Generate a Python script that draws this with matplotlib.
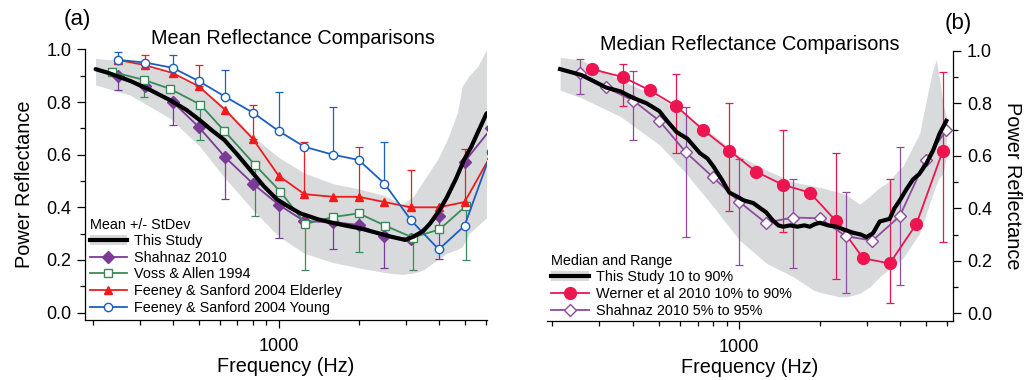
import matplotlib
matplotlib.use("Agg")
import matplotlib.pyplot as plt
from matplotlib.lines import Line2D
from matplotlib.patches import Patch
from matplotlib.ticker import LogLocator, FixedLocator, MultipleLocator, FuncFormatter, NullFormatter
import numpy as np

plt.rcParams['font.family'] = ['Liberation Sans', 'DejaVu Sans']

# ---- panel (a): mean reflectance ----
std_f = [250, 315, 400, 500, 630, 800, 1000, 1250, 1600, 2000, 2500, 3150, 4000, 5000, 6300]

young = [0.96, 0.95, 0.93, 0.88, 0.82, 0.76, 0.69, 0.63, 0.60, 0.58, 0.49, 0.35, 0.24, 0.33, 0.61]
young_err_f = [250, 400, 630, 1000, 1600, 2500]
young_err_top = [0.99, 0.98, 0.92, 0.84, 0.78, 0.65]

elder = [0.96, 0.94, 0.91, 0.86, 0.77, 0.66, 0.52, 0.45, 0.44, 0.44, 0.42, 0.40, 0.40, 0.42, 0.60]
elder_err_f = [315, 500, 800, 1250, 2000, 3150, 5000]
elder_err_top = [0.98, 0.94, 0.79, 0.65, 0.63, 0.54, 0.62]

shahnaz_mean = [0.90, 0.86, 0.80, 0.706, 0.59, 0.49, 0.41, 0.347, 0.344, 0.333, 0.29, 0.28, 0.367, 0.573, 0.70]
shahnaz_err_f = [250, 400, 630, 1000, 1600, 2500, 4000]
shahnaz_err_bot = [0.846, 0.713, 0.43, 0.282, 0.242, 0.171, 0.203]

voss_f = [236, 312, 391, 508, 625, 817, 1015, 1260, 1600, 2000, 2520, 3190, 4025, 5070]
voss = [0.915, 0.884, 0.85, 0.79, 0.69, 0.56, 0.46, 0.337, 0.363, 0.377, 0.33, 0.285, 0.316, 0.406]
voss_err_f = [312, 508, 817, 1260, 2000, 3190, 5070]
voss_err_bot = [0.82, 0.655, 0.368, 0.16, 0.23, 0.16, 0.20]

mean_f = [205, 230, 277, 330, 391, 450, 507, 565, 625, 700, 782, 880, 986, 1100, 1207, 1400,
          1610, 1800, 2029, 2300, 2630, 2993, 3220, 3500, 3720, 4000, 4300, 4650, 4975, 5300, 5580, 6050]
mean_v = [0.925, 0.91, 0.88, 0.845, 0.807, 0.77, 0.73, 0.69, 0.656, 0.60, 0.542, 0.48, 0.43, 0.40, 0.377, 0.355,
          0.34, 0.33, 0.32, 0.305, 0.289, 0.276, 0.289, 0.31, 0.34, 0.385, 0.44, 0.51, 0.58, 0.63, 0.68, 0.757]

sd_f = [205, 277, 391, 507, 622, 800, 1000, 1250, 1600, 2000, 2500, 2900, 3200, 3500, 3950,
        4300, 4700, 4900, 5200, 5600, 6050]
sd_hi = [0.966, 0.953, 0.909, 0.852, 0.782, 0.67, 0.59, 0.53, 0.49, 0.47, 0.445, 0.41, 0.44, 0.50, 0.58,
         0.656, 0.76, 0.86, 0.90, 0.934, 1.0]
sd_lo = [0.865, 0.826, 0.738, 0.63, 0.516, 0.39, 0.29, 0.225, 0.19, 0.17, 0.152, 0.145, 0.15, 0.162, 0.20,
         0.226, 0.24, 0.25, 0.30, 0.33, 0.36]

# ---- panel (b): median reflectance ----
werner_f = [281, 367, 462, 580, 730, 918, 1154, 1452, 1835, 2308, 2902, 3650, 4590, 5770]
werner = [0.93, 0.90, 0.85, 0.79, 0.70, 0.62, 0.54, 0.49, 0.46, 0.35, 0.21, 0.19, 0.34, 0.62]
werner_err_f = [367, 580, 918, 1452, 2308, 3650, 5770]
werner_lo = [0.79, 0.61, 0.39, 0.31, 0.13, 0.04, 0.27]
werner_hi = [0.95, 0.91, 0.80, 0.70, 0.61, 0.51, 0.92]

shz_med_f = [253, 318, 402, 503, 632, 795, 1000, 1254, 1590, 2000, 2500, 3145, 3980, 4970, 5940]
shz_med = [0.916, 0.86, 0.81, 0.733, 0.613, 0.52, 0.425, 0.345, 0.365, 0.362, 0.294, 0.277, 0.37, 0.584, 0.698]
shz_err_f = [253, 402, 632, 1000, 1590, 2500, 3980]
shz_lo = [0.834, 0.662, 0.289, 0.184, 0.171, 0.076, 0.108]
shz_hi = [0.968, 0.924, 0.784, 0.586, 0.511, 0.461, 0.635]

med_f = [214, 258, 318, 360, 402, 450, 503, 540, 584, 640, 713, 760, 800, 860, 918, 980, 1040, 1128,
         1200, 1260, 1332, 1400, 1459, 1550, 1650, 1750, 1835, 1920, 2000, 2150, 2308, 2450, 2663,
         2850, 2986, 3160, 3350, 3500, 3650, 3800, 3980, 4200, 4460, 4700, 5000, 5300, 5610, 5940]
med_v = [0.93, 0.907, 0.86, 0.845, 0.82, 0.80, 0.77, 0.73, 0.69, 0.665, 0.61, 0.59, 0.56, 0.51, 0.46,
         0.445, 0.43, 0.42, 0.40, 0.385, 0.355, 0.335, 0.33, 0.335, 0.33, 0.335, 0.33, 0.34, 0.345,
         0.335, 0.33, 0.32, 0.307, 0.30, 0.29, 0.305, 0.35, 0.355, 0.36, 0.40, 0.43, 0.47, 0.51,
         0.53, 0.57, 0.62, 0.685, 0.733]

rng_f = [214, 258, 359, 506, 636, 800, 1000, 1265, 1590, 1890, 2000, 2370, 2520, 2820, 3070, 3350,
         3550, 3980, 4090, 4720, 5150, 5300, 5450, 5610, 5770, 5940]
rng_hi = [0.975, 0.964, 0.89, 0.82, 0.755, 0.68, 0.60, 0.545, 0.50, 0.485, 0.48, 0.46, 0.45, 0.416,
          0.445, 0.48, 0.495, 0.55, 0.56, 0.685, 0.875, 0.93, 0.965, 0.89, 0.80, 0.75]
rng_lo = [0.85, 0.82, 0.75, 0.64, 0.53, 0.406, 0.28, 0.19, 0.14, 0.089, 0.08, 0.063, 0.063, 0.076,
          0.10, 0.14, 0.16, 0.20, 0.21, 0.305, 0.42, 0.457, 0.49, 0.52, 0.53, 0.60]

GREY = '#d9dadc'
PURPLE = '#7b3a96'
GREEN = '#3b8a5c'
RED = '#f01c1c'
BLUE = '#1c5fbf'
PINK = '#ec1550'
LPURPLE = '#8d4c9e'


def lookup(xs, ys, wanted):
    d = dict(zip(xs, ys))
    return np.array([d[w] for w in wanted])


def one_sided(ax, x, y, ends, color, up):
    y = np.asarray(y)
    ends = np.asarray(ends)
    if up:
        err = [np.zeros(len(y)), ends - y]
    else:
        err = [y - ends, np.zeros(len(y))]
    ax.errorbar(x, y, yerr=err, fmt='none', ecolor=color, elinewidth=0.9,
                capsize=3, capthick=0.9, zorder=2)


def style_axis(ax, side):
    ax.set_xscale('log')
    ax.set_ylim(-0.028, 1.0)
    ax.xaxis.set_major_locator(FixedLocator([1000]))
    ax.xaxis.set_major_formatter(FuncFormatter(lambda v, p: '%d' % v))
    ax.xaxis.set_minor_locator(LogLocator(base=10, subs=np.arange(2, 10)))
    ax.xaxis.set_minor_formatter(NullFormatter())
    ax.yaxis.set_major_locator(MultipleLocator(0.2))
    ax.yaxis.set_minor_locator(MultipleLocator(0.1))
    ax.yaxis.set_major_formatter(FuncFormatter(lambda v, p: '%.1f' % v))
    ax.tick_params(which='major', length=5.8, width=0.9, labelsize=13, direction='out', pad=4)
    ax.tick_params(which='minor', length=3.6, width=0.9, direction='out')
    ax.tick_params(axis='x', which='major', pad=7.5)
    for s in ['top', 'left', 'right']:
        ax.spines[s].set_visible(False)
    ax.spines[side].set_visible(True)
    for s in ax.spines.values():
        s.set_linewidth(0.9)
    ax.set_xlabel('Frequency (Hz)', fontsize=14.3, labelpad=1)


fig = plt.figure(figsize=(10.26, 3.8), dpi=100)

# left panel
ax1 = fig.add_axes([0.0828, 0.158, 0.392, 0.712])
ax1.fill_between(sd_f, sd_lo, sd_hi, color=GREY, lw=0, zorder=1)
one_sided(ax1, young_err_f, lookup(std_f, young, young_err_f), young_err_top, BLUE, True)
one_sided(ax1, elder_err_f, lookup(std_f, elder, elder_err_f), elder_err_top, RED, True)
one_sided(ax1, shahnaz_err_f, lookup(std_f, shahnaz_mean, shahnaz_err_f), shahnaz_err_bot, PURPLE, False)
one_sided(ax1, voss_err_f, lookup(voss_f, voss, voss_err_f), voss_err_bot, GREEN, False)
ax1.plot(std_f, shahnaz_mean, color=PURPLE, lw=1.3, marker='D', ms=6, zorder=3)
ax1.plot(voss_f, voss, color=GREEN, lw=1.3, marker='s', ms=6, mfc='white', mew=1.0, zorder=3)
ax1.plot(std_f, elder, color=RED, lw=1.3, marker='^', ms=6, zorder=3)
ax1.plot(std_f, young, color=BLUE, lw=1.3, marker='o', ms=6, mfc='white', mew=1.0, zorder=3)
ax1.plot(mean_f, mean_v, color='black', lw=3, zorder=4, solid_capstyle='round')
ax1.set_xlim(187, 6080)
style_axis(ax1, 'left')
ax1.set_ylabel('Power Reflectance', fontsize=14.3, labelpad=9)

h_this = (Patch(facecolor=GREY, edgecolor='none'), Line2D([], [], color='black', lw=3))
h1 = [h_this,
      Line2D([], [], color=PURPLE, lw=1.3, marker='D', ms=6),
      Line2D([], [], color=GREEN, lw=1.3, marker='s', ms=6, mfc='white'),
      Line2D([], [], color=RED, lw=1.3, marker='^', ms=6),
      Line2D([], [], color=BLUE, lw=1.3, marker='o', ms=6, mfc='white')]
l1 = ['This Study', 'Shahnaz 2010', 'Voss & Allen 1994',
      'Feeney & Sanford 2004 Elderley', 'Feeney & Sanford 2004 Young']
ax1.legend(h1, l1, title='Mean +/- StDev', loc='upper left', bbox_to_anchor=(-0.01, 0.41),
           frameon=False, fontsize=10.4, title_fontsize=10.4, handlelength=2.6,
           handletextpad=0.5, labelspacing=0.18, borderpad=0.1, alignment='left')

# right panel
ax2 = fig.add_axes([0.533, 0.156, 0.396, 0.7105])
ax2.fill_between(rng_f, rng_lo, rng_hi, color=GREY, lw=0, zorder=1)
wy = lookup(werner_f, werner, werner_err_f)
ax2.errorbar(werner_err_f, wy, yerr=[wy - np.array(werner_lo), np.array(werner_hi) - wy], fmt='none',
             ecolor=PINK, elinewidth=0.9, capsize=3, capthick=0.9, zorder=2)
sy = lookup(shz_med_f, shz_med, shz_err_f)
ax2.errorbar(shz_err_f, sy, yerr=[sy - np.array(shz_lo), np.array(shz_hi) - sy], fmt='none',
             ecolor=LPURPLE, elinewidth=0.9, capsize=3, capthick=0.9, zorder=2)
ax2.plot(werner_f, werner, color=PINK, lw=1.3, marker='o', ms=8.5, zorder=3)
ax2.plot(shz_med_f, shz_med, color=LPURPLE, lw=1.3, marker='D', ms=6, mfc='white', mew=1.0, zorder=3)
ax2.plot(med_f, med_v, color='black', lw=3, zorder=4)
ax2.set_xlim(191, 6300)
style_axis(ax2, 'right')
ax2.yaxis.tick_right()
ax2.yaxis.set_label_position('right')
ax2.set_ylabel('Power Reflectance', fontsize=14.3, rotation=270, labelpad=22)

h2 = [h_this,
      Line2D([], [], color=PINK, lw=1.3, marker='o', ms=8.5),
      Line2D([], [], color=LPURPLE, lw=1.3, marker='D', ms=6, mfc='white')]
l2 = ['This Study 10 to 90%', 'Werner et al 2010 10% to 90%', 'Shahnaz 2010 5% to 95%']
ax2.legend(h2, l2, title='Median and Range', loc='upper left', bbox_to_anchor=(-0.01, 0.28),
           frameon=False, fontsize=10.4, title_fontsize=10.4, handlelength=2.6,
           handletextpad=0.5, labelspacing=0.18, borderpad=0.1, alignment='left')

fig.text(293 / 1026, 1 - 39 / 380, 'Mean Reflectance Comparisons', fontsize=14.3, ha='center', va='center')
fig.text(750 / 1026, 1 - 45 / 380, 'Median Reflectance Comparisons', fontsize=14.3, ha='center', va='center')
fig.text(77 / 1026, 1 - 20 / 380, '(a)', fontsize=16, ha='center', va='center')
fig.text(958 / 1026, 1 - 23 / 380, '(b)', fontsize=16, ha='center', va='center')

fig.savefig('out.png', dpi=100)
